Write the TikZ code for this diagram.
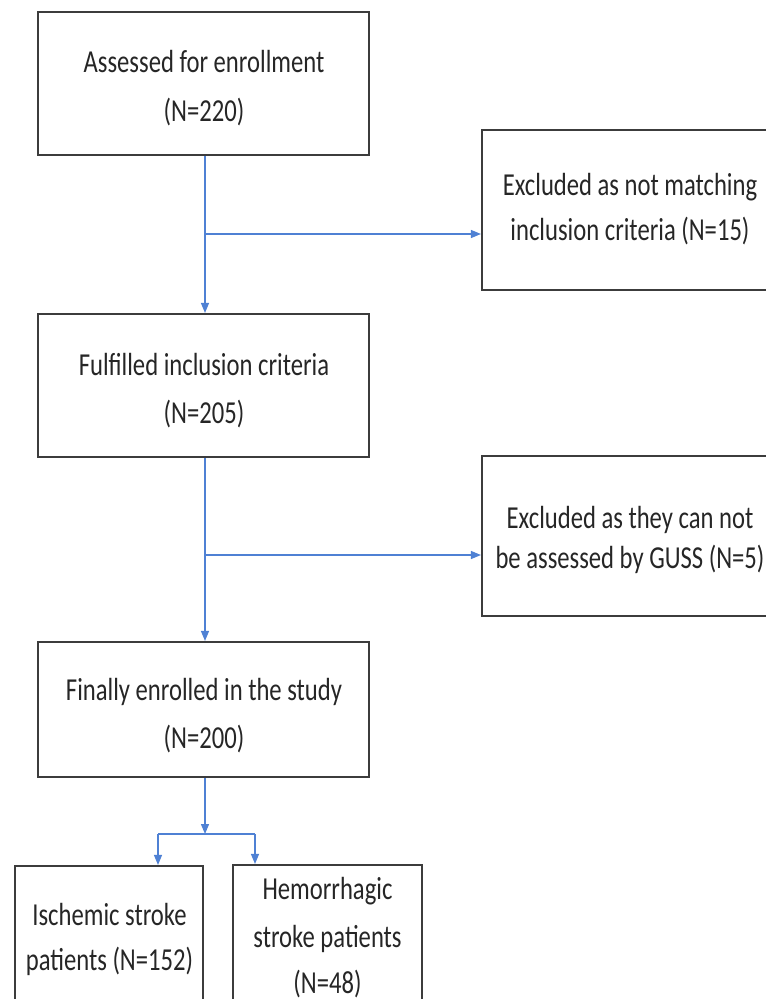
\documentclass[tikz,border=0pt]{standalone}
\usepackage{fontspec}
\setmainfont{Carlito}[FakeStretch=0.77]
\usetikzlibrary{arrows.meta,calc}
\definecolor{connblue}{RGB}{79,129,212}
\definecolor{boxgray}{RGB}{60,60,60}
\begin{document}
\begin{tikzpicture}[x=0.75pt,y=-0.75pt,
  boxnode/.style={draw=boxgray, line width=1.6pt, fill=white, inner sep=0pt, rectangle},
  txt/.style={anchor=base, inner sep=0pt, font=\fontsize{24pt}{36pt}\selectfont, text=black!85},
  conn/.style={draw=connblue, line width=0.9pt},
  arr/.style={conn, -{Triangle[length=7.5pt,width=6pt]}}]
\useasboundingbox (0,0) rectangle (766,999);
\clip (0,0) rectangle (766,999);
\fill[white] (0,0) rectangle (766,999);

% boxes
\node[boxnode, minimum width=331*0.75pt, minimum height=143*0.75pt] (b1) at (203.5,83.5) {};
\node[boxnode, minimum width=331*0.75pt, minimum height=143*0.75pt] (b2) at (203.5,385.5) {};
\node[boxnode, minimum width=331*0.75pt, minimum height=135*0.75pt] (b3) at (203.5,709.5) {};
\node[boxnode, minimum width=296*0.75pt, minimum height=160*0.75pt] (e1) at (630,210) {};
\node[boxnode, minimum width=296*0.75pt, minimum height=160*0.75pt] (e2) at (630,536) {};
\node[boxnode, minimum width=188*0.75pt, minimum height=146*0.75pt] (b4) at (109,939) {};
\node[boxnode, minimum width=189*0.75pt, minimum height=147*0.75pt] (b5) at (327.5,938.5) {};

% texts
\node[txt] (t1a) at (204,73) {Assessed for enrollment};
\node[txt] (t1b) at (204,122) {(N=220)};
\node[txt] (t2a) at (204,375) {Fulfilled inclusion criteria};
\node[txt] (t2b) at (204,423) {(N=205)};
\node[txt] (t3a) at (204,700) {Finally enrolled in the study};
\node[txt] (t3b) at (204,748) {(N=200)};
\node[txt] (t4a) at (630,195) {Excluded as not matching};
\node[txt] (t4b) at (630,240) {inclusion criteria (N=15)};
\node[txt] (t5a) at (630,528) {Excluded as they can not};
\node[txt] (t5b) at (630,568) {be assessed by GUSS (N=5)};
\node[txt] (t6a) at (109.5,925) {Ischemic stroke};
\node[txt] (t6b) at (109.5,970) {patients (N=152)};
\node[txt] (t7a) at (327.5,899) {Hemorrhagic};
\node[txt] (t7b) at (327.5,947) {stroke patients};
\node[txt] (t7c) at (327.5,993) {(N=48)};

% junctions
\coordinate (j1) at (205,234);
\coordinate (j2) at (205,555);
\coordinate (j3) at (205,834);
\coordinate (j3l) at (158,834);
\coordinate (j3r) at (255,834);

% connectors
\draw[arr] (b1.south -| j1) -- (b2.north -| j1);
\draw[arr] (j1) -- (j1 -| e1.west);
\draw[arr] (b2.south -| j2) -- (b3.north -| j2);
\draw[arr] (j2) -- (j2 -| e2.west);
\draw[arr] (b3.south -| j3) -- (j3);
\draw[conn] (j3l) -- (j3r);
\draw[arr] (j3l) -- (j3l |- b4.north);
\draw[arr] (j3r) -- (j3r |- b5.north);
\end{tikzpicture}
\end{document}
